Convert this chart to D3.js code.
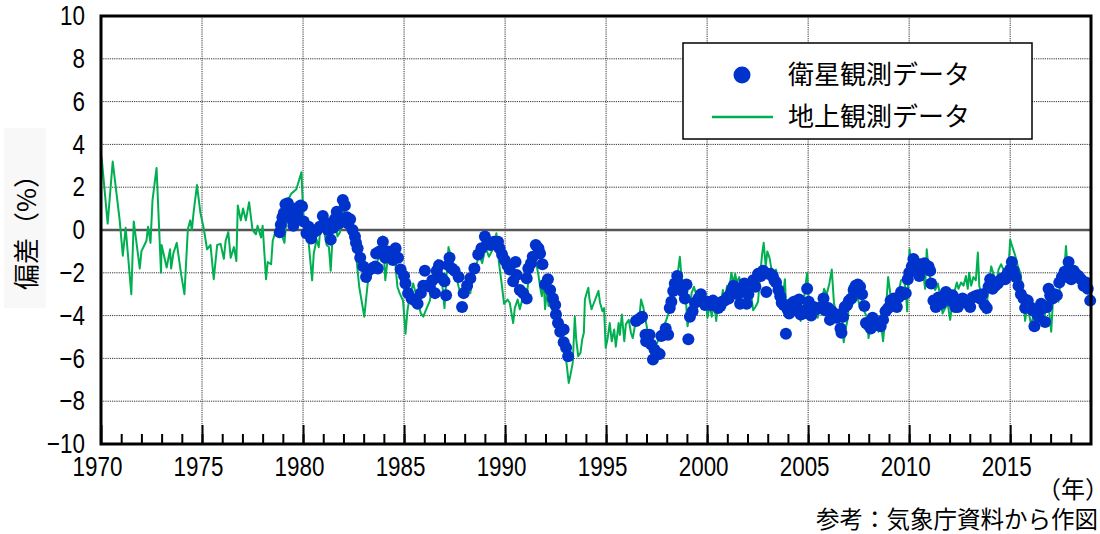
<!DOCTYPE html>
<html>
<head>
<meta charset="utf-8">
<script src="https://cdn.jsdelivr.net/npm/d3@7"></script>
<style>
  body { margin: 0; background: #fff; }
  svg { display: block; }
</style>
</head>
<body>
<svg id="chart" width="1100" height="534"></svg>
<script>
// ground observation (green line), [decimal year, deviation %]
var ground1970s = [[1970.0,2.1],[1970.03,3.4],[1970.33,0.3],[1970.58,3.2],[1970.92,0.5],[1971.08,-1.2],[1971.22,0.1],[1971.5,-3.0],[1971.62,0.4],[1971.92,-1.8],[1972.0,-1.0],[1972.25,-0.5],[1972.33,0.15],[1972.45,-0.6],[1972.55,1.4],[1972.75,2.9],[1972.97,-2.0],[1973.0,-0.7],[1973.25,-1.75],[1973.42,-0.9],[1973.47,-1.8],[1973.58,-1.1],[1973.75,-0.6],[1973.97,-2.1],[1974.13,-3.0],[1974.3,0.05],[1974.42,0.45],[1974.5,0.0],[1974.58,0.8],[1974.75,2.1],[1974.92,0.8],[1975.08,0.1],[1975.25,-0.9],[1975.42,-0.7],[1975.58,-2.3],[1975.75,-0.7],[1975.92,-0.65],[1976.08,-1.35],[1976.17,-0.5],[1976.3,-0.1],[1976.42,-1.3],[1976.58,-0.8],[1976.7,-1.45],[1976.77,1.15],[1976.92,0.45],[1977.03,1.0],[1977.17,0.45],[1977.33,1.3],[1977.5,0.0],[1977.67,-0.2],[1977.75,0.2],[1977.92,-0.35],[1978.0,0.2],[1978.17,-2.3],[1978.25,-1.5],[1978.42,-1.6],[1978.5,-0.5],[1978.67,0.05],[1978.83,0.1],[1979.08,-0.6],[1979.25,1.4],[1979.42,1.7],[1979.67,1.9],[1979.92,2.7]];
var ground1980s = [[1980.0,0.95],[1980.12,-0.15],[1980.28,-0.6],[1980.45,-2.35],[1980.53,-1.1],[1980.67,-0.45],[1980.78,-0.8],[1980.87,0.3],[1981.03,0.0],[1981.17,-0.7],[1981.28,-0.8],[1981.37,-1.9],[1981.47,-0.15],[1981.62,0.25],[1981.7,-0.3],[1981.83,-0.1],[1981.95,0.8],[1982.03,0.95],[1982.2,0.3],[1982.37,0.55],[1982.5,-0.25],[1982.62,-1.1],[1982.78,-2.65],[1982.95,-3.6],[1983.03,-4.05],[1983.2,-2.5],[1983.37,-1.7],[1983.53,-1.9],[1983.7,-1.4],[1983.83,-1.25],[1983.95,-0.3],[1984.07,-2.35],[1984.2,-1.25],[1984.28,-0.95],[1984.4,-1.4],[1984.53,-1.15],[1984.67,-2.65],[1984.78,-2.95],[1984.95,-3.3],[1985.07,-4.85],[1985.17,-3.75],[1985.28,-3.1],[1985.45,-2.5],[1985.62,-3.1],[1985.83,-3.9],[1985.95,-4.05],[1986.12,-3.65],[1986.28,-3.3],[1986.37,-2.65],[1986.53,-2.2],[1986.67,-1.4],[1986.78,-1.9],[1986.9,-2.65],[1987.0,-3.65],[1987.12,-1.9],[1987.2,-0.8],[1987.28,-1.1],[1987.4,-1.9],[1987.53,-2.0],[1987.7,-2.65],[1987.83,-3.1],[1988.0,-2.95],[1988.12,-2.65],[1988.28,-2.95],[1988.4,-2.2],[1988.53,-1.9],[1988.7,-1.1],[1988.87,-1.55],[1989.03,-0.8],[1989.2,-1.25],[1989.37,-0.95],[1989.57,-0.15],[1989.7,-1.55],[1989.83,-2.5],[1989.95,-3.45]];
var ground1990s = [[1990.12,-3.25],[1990.23,-3.4],[1990.4,-4.35],[1990.48,-3.65],[1990.62,-3.25],[1990.73,-3.7],[1990.85,-3.25],[1990.95,-2.85],[1991.07,-3.1],[1991.15,-2.4],[1991.23,-1.85],[1991.32,-1.55],[1991.45,-1.25],[1991.57,-1.7],[1991.65,-2.1],[1991.73,-2.65],[1991.82,-3.1],[1991.9,-2.25],[1991.98,-3.7],[1992.07,-2.85],[1992.15,-3.55],[1992.28,-3.2],[1992.37,-3.4],[1992.48,-4.2],[1992.62,-4.55],[1992.73,-4.95],[1992.85,-5.45],[1992.98,-5.75],[1993.07,-6.45],[1993.15,-7.15],[1993.23,-6.8],[1993.35,-6.2],[1993.45,-4.05],[1993.52,-5.1],[1993.62,-5.9],[1993.73,-5.75],[1993.82,-5.1],[1993.9,-4.8],[1993.95,-3.25],[1994.02,-3.0],[1994.12,-2.7],[1994.18,-3.25],[1994.28,-3.7],[1994.4,-3.4],[1994.52,-3.1],[1994.62,-2.85],[1994.7,-3.4],[1994.82,-3.8],[1994.9,-3.65],[1994.98,-5.5],[1995.07,-5.1],[1995.18,-4.35],[1995.28,-5.2],[1995.4,-4.65],[1995.48,-5.45],[1995.62,-4.35],[1995.68,-4.9],[1995.78,-3.95],[1995.9,-5.2],[1995.98,-4.4],[1996.12,-4.2],[1996.23,-4.8],[1996.32,-5.05],[1996.45,-4.35],[1996.57,-4.25],[1996.65,-4.05],[1996.73,-3.25],[1996.85,-3.65],[1996.95,-4.2],[1997.07,-4.8],[1997.18,-5.25],[1997.28,-5.65],[1997.4,-5.5],[1997.48,-5.35],[1997.62,-5.1],[1997.73,-4.9],[1997.85,-4.5],[1997.98,-4.2],[1998.07,-3.95],[1998.15,-3.7],[1998.23,-3.5],[1998.32,-2.8],[1998.45,-2.4],[1998.57,-1.85],[1998.65,-1.25],[1998.73,-2.15],[1998.85,-2.65],[1998.95,-3.25],[1999.03,-4.5],[1999.12,-4.05],[1999.23,-2.95],[1999.35,-2.65],[1999.48,-3.1],[1999.62,-2.85]];
var ground2000s = [[1999.69,-3.3],[1999.81,-2.9],[1999.94,-3.35],[2000.02,-4.1],[2000.13,-3.5],[2000.23,-4.05],[2000.34,-3.35],[2000.45,-4.25],[2000.55,-3.2],[2000.66,-3.65],[2000.78,-2.8],[2000.87,-3.2],[2000.99,-2.6],[2001.1,-2.75],[2001.2,-2.0],[2001.31,-2.5],[2001.39,-2.05],[2001.47,-2.45],[2001.59,-2.2],[2001.72,-2.8],[2001.84,-3.2],[2001.96,-2.75],[2002.07,-3.0],[2002.2,-3.2],[2002.28,-3.75],[2002.39,-3.6],[2002.52,-3.35],[2002.62,-2.15],[2002.72,-1.15],[2002.8,-0.6],[2002.9,-1.7],[2002.98,-1.0],[2003.09,-1.3],[2003.17,-1.75],[2003.3,-2.05],[2003.41,-1.85],[2003.53,-2.45],[2003.62,-2.5],[2003.74,-3.2],[2003.85,-2.3],[2003.92,-3.75],[2004.01,-3.65],[2004.14,-4.05],[2004.26,-3.45],[2004.39,-3.2],[2004.5,-3.9],[2004.63,-4.25],[2004.76,-3.5],[2004.87,-2.6],[2004.95,-2.0],[2005.03,-3.2],[2005.15,-4.1],[2005.24,-3.45],[2005.36,-3.8],[2005.47,-4.1],[2005.57,-3.65],[2005.68,-3.35],[2005.79,-2.75],[2005.92,-3.0],[2006.05,-2.5],[2006.17,-1.85],[2006.28,-3.45],[2006.38,-3.8],[2006.49,-4.05],[2006.6,-4.75],[2006.7,-4.25],[2006.76,-5.25],[2006.86,-4.6],[2006.97,-4.1],[2007.06,-2.6],[2007.18,-3.2],[2007.3,-2.75],[2007.41,-3.05],[2007.54,-3.5],[2007.67,-3.3],[2007.78,-3.8],[2007.9,-4.05],[2007.99,-5.05],[2008.1,-4.45],[2008.22,-4.1],[2008.35,-3.95],[2008.48,-4.75],[2008.59,-4.25],[2008.71,-5.2],[2008.83,-3.95],[2008.96,-2.2],[2009.08,-3.05],[2009.19,-3.3],[2009.32,-3.65]];
var ground2010s = [[2009.39,-3.35],[2009.5,-2.8],[2009.6,-2.35],[2009.72,-2.3],[2009.83,-2.75],[2009.9,-3.8],[2009.97,-2.0],[2010.02,-0.9],[2010.1,-1.7],[2010.21,-1.45],[2010.3,-2.2],[2010.43,-1.9],[2010.54,-1.35],[2010.66,-1.75],[2010.79,-2.75],[2010.87,-0.9],[2010.96,-1.85],[2011.09,-2.5],[2011.2,-2.65],[2011.29,-2.8],[2011.42,-2.5],[2011.53,-3.05],[2011.65,-3.9],[2011.78,-3.65],[2011.91,-3.45],[2012.03,-4.2],[2012.15,-3.3],[2012.28,-2.75],[2012.36,-2.45],[2012.44,-2.75],[2012.57,-2.45],[2012.69,-2.6],[2012.81,-2.15],[2012.9,-2.75],[2012.97,-2.0],[2013.07,-2.6],[2013.18,-2.2],[2013.3,-2.35],[2013.4,-1.05],[2013.47,-2.6],[2013.56,-3.0],[2013.68,-3.3],[2013.8,-3.9],[2013.93,-2.65],[2014.06,-1.7],[2014.17,-2.05],[2014.29,-2.75],[2014.42,-1.85],[2014.55,-1.6],[2014.67,-1.85],[2014.79,-2.05],[2014.92,-1.7],[2015.0,-0.45],[2015.08,-0.7],[2015.25,-1.2],[2015.38,-1.7],[2015.5,-2.0],[2015.61,-2.75],[2015.74,-4.25],[2015.83,-3.6],[2015.91,-3.8],[2016.04,-4.45],[2016.16,-3.95],[2016.24,-3.45],[2016.37,-4.1],[2016.49,-3.65],[2016.6,-4.2],[2016.7,-4.05],[2016.82,-3.2],[2016.93,-3.8],[2017.03,-4.75],[2017.15,-2.75],[2017.26,-3.0],[2017.39,-3.35],[2017.48,-2.45],[2017.59,-2.35],[2017.69,-1.75],[2017.76,-0.75],[2017.85,-1.85],[2017.97,-1.45],[2018.09,-1.75],[2018.22,-2.05],[2018.35,-2.2],[2018.47,-2.05],[2018.58,-2.45],[2018.71,-2.6],[2018.84,-2.75],[2018.96,-3.05]];

// satellite observation (blue dots)
var satellite1979 = [[1978.85,-0.1],[1978.9,0.25],[1978.98,0.6],[1979.05,0.8],[1979.13,1.2],[1979.25,1.25],[1979.35,0.9],[1979.47,0.45],[1979.52,0.2],[1979.63,1.0],[1979.72,0.75],[1979.88,1.15],[1979.95,1.1],[1980.03,0.4],[1980.17,-0.15],[1980.28,0.15],[1980.4,-0.4],[1980.53,-0.1],[1980.7,0.0],[1980.83,0.15],[1980.98,0.65],[1981.17,0.3],[1981.23,0.0],[1981.37,-0.45],[1981.5,0.1],[1981.57,0.5],[1981.67,0.85],[1981.78,0.3],[1981.83,0.45],[1981.97,1.4],[1982.07,1.15],[1982.17,0.6],[1982.23,0.3],[1982.33,0.5],[1982.45,0.0],[1982.57,-0.3],[1982.62,-0.6],[1982.7,-0.85],[1982.83,-1.3],[1982.98,-1.7],[1983.12,-2.2],[1983.23,-1.9],[1983.4,-1.8],[1983.57,-1.7],[1983.62,-1.1],[1983.7,-1.8],[1983.78,-1.0],[1983.95,-0.55],[1984.07,-1.3],[1984.2,-1.0],[1984.33,-1.25],[1984.45,-1.4],[1984.58,-0.85],[1984.7,-1.3],[1984.83,-1.85],[1985.0,-2.15],[1985.07,-2.5],[1985.2,-2.95],[1985.37,-3.2],[1985.53,-3.3],[1985.67,-3.45],[1985.83,-2.95],[1985.95,-2.6],[1986.03,-1.9],[1986.17,-2.6],[1986.28,-2.65],[1986.4,-2.35],[1986.53,-2.95],[1986.62,-1.9],[1986.73,-1.65],[1986.87,-2.25],[1987.0,-2.4],[1987.08,-3.05],[1987.2,-1.65],[1987.25,-1.3],[1987.37,-1.8],[1987.5,-1.9],[1987.7,-2.2],[1987.87,-3.6],[1987.95,-2.95],[1988.12,-2.6],[1988.28,-2.25],[1988.48,-1.8],[1988.67,-1.15],[1988.83,-0.85],[1989.0,-0.3],[1989.12,-0.6],[1989.28,-0.7],[1989.45,-0.55],[1989.65,-0.55],[1989.73,-0.85],[1989.85,-1.15],[1989.98,-1.4],[1990.12,-1.65],[1990.23,-1.85],[1990.4,-2.4],[1990.52,-1.5],[1990.57,-2.1],[1990.73,-2.8],[1990.9,-2.95],[1991.07,-3.2],[1991.07,-2.25],[1991.15,-1.8],[1991.28,-1.55],[1991.37,-1.25],[1991.52,-0.7],[1991.65,-0.85],[1991.73,-1.1],[1991.85,-1.6],[1991.98,-2.55],[1992.12,-2.3],[1992.23,-2.8],[1992.37,-3.2],[1992.48,-3.5],[1992.52,-3.95],[1992.62,-4.35],[1992.73,-4.75],[1992.9,-4.65],[1992.9,-5.25],[1993.02,-5.5],[1993.12,-5.9]];
var satellite1996 = [[1996.48,-4.25],[1996.65,-4.15],[1996.78,-4.05],[1996.95,-4.9],[1996.98,-5.2],[1997.15,-4.9],[1997.23,-5.35],[1997.32,-6.05],[1997.4,-5.6],[1997.52,-5.75],[1997.65,-5.8],[1997.73,-4.95],[1997.85,-4.9],[1997.95,-4.6],[1998.07,-4.9],[1998.15,-3.65],[1998.23,-3.35],[1998.32,-2.85],[1998.4,-2.5],[1998.52,-2.15],[1998.65,-2.55],[1998.78,-2.85],[1998.9,-3.2],[1998.98,-2.55],[1999.07,-5.1],[1999.15,-4.05],[1999.28,-3.8],[1999.4,-3.4],[1999.57,-3.2],[1999.69,-3.0],[1999.77,-3.35],[1999.9,-3.5],[2000.02,-3.35],[2000.18,-3.5],[2000.29,-3.3],[2000.42,-3.5],[2000.55,-3.65],[2000.66,-3.55],[2000.74,-3.35],[2000.87,-3.3],[2000.99,-3.15],[2001.07,-3.2],[2001.15,-3.0],[2001.23,-2.8],[2001.31,-2.6],[2001.42,-2.8],[2001.52,-3.0],[2001.63,-3.45],[2001.72,-2.8],[2001.84,-2.5],[2001.96,-3.45],[2002.04,-3.0],[2002.17,-2.6],[2002.28,-2.35],[2002.39,-2.65],[2002.52,-2.05],[2002.65,-2.15],[2002.77,-1.9],[2002.93,-2.9],[2003.01,-2.05],[2003.14,-2.05],[2003.25,-2.15],[2003.33,-2.35],[2003.41,-2.45],[2003.53,-2.8],[2003.62,-3.1],[2003.69,-3.4],[2003.79,-3.5],[2003.9,-4.85],[2003.98,-3.7],[2004.06,-3.9],[2004.17,-3.45],[2004.3,-3.35],[2004.43,-3.6],[2004.55,-3.25],[2004.63,-3.95],[2004.76,-3.9],[2004.87,-3.75],[2004.95,-2.75],[2005.03,-3.35],[2005.15,-4.0],[2005.28,-3.6],[2005.4,-3.7],[2005.52,-3.65],[2005.63,-3.65],[2005.76,-3.2],[2005.84,-3.75],[2006.0,-3.65],[2006.08,-4.2],[2006.17,-3.8],[2006.28,-3.9],[2006.41,-4.1],[2006.54,-3.95],[2006.6,-4.6],[2006.65,-4.8],[2006.73,-4.05],[2006.81,-3.6],[2006.93,-3.5],[2007.02,-3.3],[2007.14,-3.2],[2007.25,-2.8],[2007.35,-2.6],[2007.46,-2.55],[2007.57,-2.65],[2007.67,-3.0],[2007.78,-3.55],[2007.86,-4.35],[2007.99,-4.45],[2008.1,-4.6],[2008.19,-4.1],[2008.35,-4.35],[2008.48,-4.45],[2008.59,-4.5],[2008.71,-4.2],[2008.83,-3.8],[2008.96,-3.65],[2009.08,-3.3],[2009.24,-3.2]];
var satellite2009 = [[2009.39,-3.6],[2009.47,-3.15],[2009.6,-2.9],[2009.72,-3.0],[2009.83,-2.95],[2009.93,-2.3],[2010.0,-2.0],[2010.13,-1.7],[2010.21,-1.35],[2010.3,-1.75],[2010.43,-1.6],[2010.5,-2.15],[2010.59,-1.85],[2010.76,-1.55],[2010.87,-1.8],[2010.96,-1.7],[2011.04,-1.9],[2011.09,-2.5],[2011.2,-3.3],[2011.32,-3.6],[2011.45,-3.15],[2011.58,-3.45],[2011.7,-3.2],[2011.82,-2.9],[2011.91,-3.0],[2012.03,-3.3],[2012.15,-3.05],[2012.28,-3.6],[2012.41,-3.6],[2012.52,-3.3],[2012.64,-3.2],[2012.77,-3.3],[2012.9,-3.45],[2013.02,-3.6],[2013.14,-3.15],[2013.27,-3.1],[2013.4,-3.05],[2013.51,-3.2],[2013.63,-3.0],[2013.73,-3.5],[2013.84,-3.65],[2013.93,-2.65],[2014.01,-2.3],[2014.13,-2.75],[2014.26,-2.6],[2014.39,-2.5],[2014.5,-2.35],[2014.62,-2.25],[2014.75,-2.3],[2014.88,-2.0],[2015.0,-1.85],[2015.08,-1.5],[2015.17,-1.9],[2015.28,-2.2],[2015.41,-2.6],[2015.53,-3.0],[2015.66,-3.2],[2015.74,-3.65],[2015.87,-3.3],[2015.99,-3.6],[2016.11,-3.75],[2016.2,-4.5],[2016.32,-3.9],[2016.4,-4.05],[2016.53,-3.45],[2016.65,-3.65],[2016.73,-4.3],[2016.82,-3.6],[2016.9,-2.75],[2016.98,-3.05],[2017.1,-3.2],[2017.19,-3.0],[2017.31,-3.05],[2017.43,-2.45],[2017.56,-2.2],[2017.69,-1.95],[2017.81,-2.2],[2017.89,-1.5],[2018.02,-2.3],[2018.14,-1.9],[2018.25,-2.05],[2018.38,-2.15],[2018.51,-2.3],[2018.63,-2.6],[2018.75,-2.45],[2018.84,-2.75],[2018.96,-3.3]];

var yTicks = [-10, -8, -6, -4, -2, 0, 2, 4, 6, 8, 10];
var xMajorTicks = [1970, 1975, 1980, 1985, 1990, 1995, 2000, 2005, 2010, 2015];
var legendLabels = ['衛星観測データ', '地上観測データ'];

(function() {
  'use strict';

  var ground = ground1970s.concat(ground1980s, ground1990s, ground2000s, ground2010s);
  var satellite = satellite1979.concat(satellite1996, satellite2009);

  var svg = d3.select('#chart');
  var plotLeft = 101, plotRight = 1091, plotTop = 16, plotBottom = 444;
  var green = '#00b050';
  var blue = '#0033cc';
  var numFont = '"Liberation Sans", Arial, sans-serif';
  var jpFont = '"Noto Sans CJK JP", sans-serif';

  var x = d3.scaleLinear().domain([1970, 2019]).range([plotLeft, plotRight]);
  var y = d3.scaleLinear().domain([-10, 10]).range([plotBottom, plotTop]);

  // the source uses a narrow face for numbers; squeeze the glyphs to match
  function narrow(sel) {
    sel.each(function() {
      var w = this.getComputedTextLength();
      d3.select(this)
        .attr('textLength', w * 0.83)
        .attr('lengthAdjust', 'spacingAndGlyphs');
    });
  }

  // faint panel behind the y title
  svg.append('rect')
    .attr('x', 4).attr('y', 128).attr('width', 42).attr('height', 180)
    .attr('fill', '#f8f8f8');

  // grid
  var grid = svg.append('g');
  grid.selectAll('line.h')
    .data(yTicks.filter(function(d) { return d !== 0 && Math.abs(d) !== 10; }))
    .enter().append('line')
    .attr('class', 'h')
    .attr('x1', plotLeft).attr('x2', plotRight)
    .attr('y1', function(d) { return y(d); })
    .attr('y2', function(d) { return y(d); });
  grid.selectAll('line.v')
    .data(xMajorTicks.slice(1))
    .enter().append('line')
    .attr('class', 'v')
    .attr('y1', plotTop).attr('y2', plotBottom)
    .attr('x1', function(d) { return x(d); })
    .attr('x2', function(d) { return x(d); });
  grid.selectAll('line')
    .attr('stroke', '#111')
    .attr('stroke-opacity', 0.85)
    .attr('stroke-width', 1)
    .attr('stroke-dasharray', '1.2,1');

  // zero line
  svg.append('line')
    .attr('x1', plotLeft).attr('x2', plotRight)
    .attr('y1', y(0)).attr('y2', y(0))
    .attr('stroke', '#555').attr('stroke-width', 2.5);

  // ground line
  var line = d3.line()
    .x(function(d) { return x(d[0]); })
    .y(function(d) { return y(d[1]); });
  svg.append('path')
    .datum(ground)
    .attr('d', line)
    .attr('fill', 'none')
    .attr('stroke', green)
    .attr('stroke-width', 2)
    .attr('stroke-linejoin', 'round');

  // satellite dots
  svg.append('g').selectAll('circle')
    .data(satellite)
    .enter().append('circle')
    .attr('cx', function(d) { return x(d[0]); })
    .attr('cy', function(d) { return y(d[1]); })
    .attr('r', 6)
    .attr('fill', blue);

  // frame
  svg.append('rect')
    .attr('x', plotLeft).attr('y', plotTop)
    .attr('width', plotRight - plotLeft).attr('height', plotBottom - plotTop)
    .attr('fill', 'none').attr('stroke', '#000').attr('stroke-width', 3);

  // x axis: yearly minor ticks, 5-year major ticks with labels
  var minorAxis = d3.axisBottom(x)
    .tickValues(d3.range(1971, 2019))
    .tickSize(-10)
    .tickFormat('');
  svg.append('g')
    .attr('transform', 'translate(0,' + plotBottom + ')')
    .call(minorAxis)
    .call(function(g) { g.select('.domain').remove(); })
    .selectAll('line').attr('stroke-width', 2);

  var majorAxis = d3.axisBottom(x)
    .tickValues(xMajorTicks)
    .tickSize(-19)
    .tickPadding(13)
    .tickFormat(d3.format('d'));
  var xg = svg.append('g')
    .attr('transform', 'translate(0,' + plotBottom + ')')
    .call(majorAxis)
    .call(function(g) { g.select('.domain').remove(); });
  xg.selectAll('line').attr('stroke-width', 2);
  xg.selectAll('text')
    .attr('dx', -4)
    .style('font-family', numFont)
    .style('font-size', '27px')
    .attr('fill', '#000')
    .call(narrow);

  // y axis labels
  var yAxis = d3.axisLeft(y)
    .tickValues(yTicks)
    .tickSize(0)
    .tickPadding(16);
  var yg = svg.append('g')
    .attr('transform', 'translate(' + plotLeft + ',0)')
    .call(yAxis)
    .call(function(g) { g.select('.domain').remove(); });
  yg.selectAll('text')
    .style('font-family', numFont)
    .style('font-size', '27px')
    .attr('fill', '#000')
    .call(narrow);

  // y title
  svg.append('text')
    .attr('transform', 'translate(24,226) rotate(-90)')
    .attr('text-anchor', 'middle')
    .attr('dominant-baseline', 'central')
    .style('font-family', jpFont)
    .style('font-size', '26px')
    .text('偏差（%）');

  // unit and source
  svg.append('text')
    .attr('x', 1037).attr('y', 498)
    .style('font-family', jpFont)
    .style('font-size', '24px')
    .text('（年）');
  svg.append('text')
    .attr('x', 1098).attr('y', 527.5)
    .attr('text-anchor', 'end')
    .style('font-family', jpFont)
    .style('font-size', '23.5px')
    .text('参考：気象庁資料から作図');

  // legend
  var legend = svg.append('g');
  legend.append('rect')
    .attr('x', 683).attr('y', 43).attr('width', 349).attr('height', 96)
    .attr('fill', '#fff').attr('stroke', '#000').attr('stroke-width', 1.5);
  legend.append('circle')
    .attr('cx', 742).attr('cy', 75).attr('r', 8.5)
    .attr('fill', blue);
  legend.append('line')
    .attr('x1', 712).attr('x2', 773).attr('y1', 117).attr('y2', 117)
    .attr('stroke', green).attr('stroke-width', 2.5);
  legend.selectAll('text')
    .data(legendLabels)
    .enter().append('text')
    .attr('x', 788)
    .attr('y', function(d, i) { return 84 + i * 42; })
    .style('font-family', jpFont)
    .style('font-size', '26px')
    .text(function(d) { return d; });
})();
</script>
</body>
</html>
